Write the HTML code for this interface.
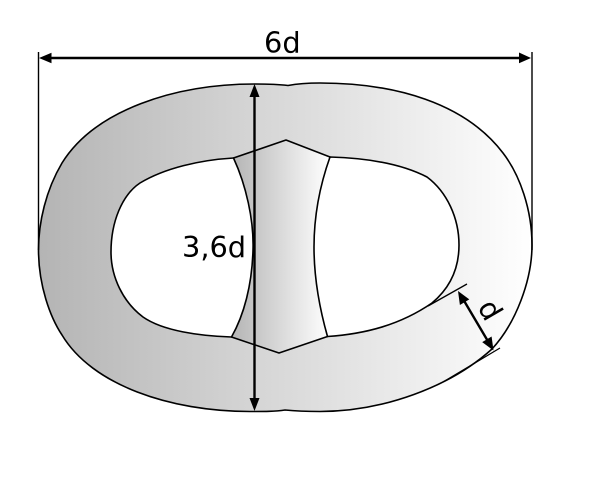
<!DOCTYPE html>
<html>
<head>
<meta charset="utf-8">
<style>
html,body{margin:0;padding:0;background:#fff;width:600px;height:481px;overflow:hidden}
svg{display:block}
text{font-family:"DejaVu Sans",sans-serif;fill:#000}
</style>
</head>
<body>
<svg width="600" height="481" viewBox="0 0 600 481" xmlns="http://www.w3.org/2000/svg">
<defs>
<linearGradient id="g1" gradientUnits="userSpaceOnUse" x1="38" y1="0" x2="532" y2="0">
<stop offset="0" stop-color="#b4b4b4"/>
<stop offset="1" stop-color="#ffffff"/>
</linearGradient>
<linearGradient id="g2" gradientUnits="userSpaceOnUse" x1="231" y1="0" x2="330" y2="0">
<stop offset="0" stop-color="#b4b4b4"/>
<stop offset="1" stop-color="#ffffff"/>
</linearGradient>
</defs>
<path fill="url(#g1)" fill-rule="evenodd" stroke="#000" stroke-width="1.6" stroke-linejoin="round" d="M38.500 250 C38.500 222 46 190 62 163 C95 110 175 84 255 84 C268 84 280 84.500 288 85.500 C296 84 308 83 320 83 C395 83 465 103 503 153 C520 175 532 210 532 245 C532 280 516 323 492 349 C450 387 383 411.500 320 411.500 C307 411.500 295 411 285 410 C275 411.500 265 411.500 250 411.500 C170 411.500 92 385 62 335 C50 317 38.500 285 38.500 250 Z M233.500 158 C200 160 165 168 140 183 C122 195 111 222 111 252 C111 277 123 302 143 317 C163 331 200 336 231.500 337 L327.500 336.500 C365 334 400 325 432 303 C450 288 459 268 459 245 C459 218 447 192 427 177 C400 163 365 158 330 157 Z"/>
<path fill="url(#g2)" stroke="#000" stroke-width="1.6" stroke-linejoin="round" d="M233.500 158 L286 140 L330 157 C320 185 314 215 314 247 C314 280 320 310 327.500 336.500 L279 353 L231.500 337 C244 315 252 285 253 250 C254 220 246 185 233.500 158 Z"/>
<path fill="none" stroke="#000" stroke-width="1.4" d="M38.500 52 V250 M532 52 V250"/>
<path fill="none" stroke="#000" stroke-width="1.3" d="M428 306 L467 284 M443 382 L500 348"/>
<path fill="none" stroke="#000" stroke-width="2.400" d="M50 58 H520 M254.500 96 V399 M463 299 L489 343"/>
<path fill="#000" d="M39 58 L51.500 52.700 V63.300 Z M531 58 L519 52.500 V63.300 Z M254.500 84 L249.500 97 H259.500 Z M254.500 411 L249.500 398 H259.500 Z M458 291 L469.300 299.400 L459.900 305 Z M493.500 350.500 L491.600 336.500 L482.200 342.100 Z"/>
<text x="264" y="52.500" font-size="28.800">6d</text>
<text x="182" y="257" font-size="28.800">3,6d</text>
<text transform="translate(477 307) rotate(60)" x="0" y="0" font-size="28.800">d</text>
</svg>
</body>
</html>
